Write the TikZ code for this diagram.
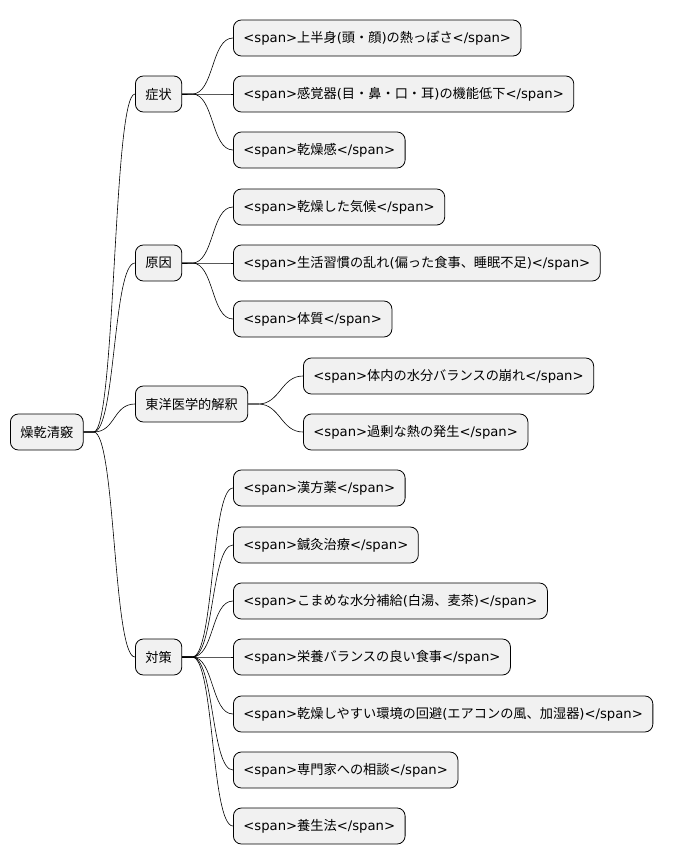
\documentclass[tikz,border=0pt]{standalone}
\usepackage{fontspec}
\setmainfont{Noto Sans CJK JP}
\newfontfamily\lat{DejaVu Sans}
\newcommand{\SO}{{\lat <span>}}
\newcommand{\SC}{{\lat </span>}}
\begin{document}
\begin{tikzpicture}[x=1pt,y=1pt,
  box/.style={draw=black,fill={rgb,255:red,241;green,241;blue,241},rounded corners=8pt,
    minimum height=36pt,inner xsep=10pt,anchor=west,font=\fontsize{13.2pt}{15pt}\selectfont,line width=0.8pt},
  con/.style={draw=black,line width=0.6pt}]
\useasboundingbox (0,0) rectangle (688,-865);
\newcommand{\lk}[2]{\draw[con] (#1.east) -- ([xshift=10pt]#1.east) .. controls ([xshift=32pt]#1.east) and ([xshift=-22pt]#2.west) .. (#2.west);}
\node[box] (r) at (10,-432) {燥乾清竅};
\node[box] (a) at (135,-94) {症状};
\node[box] (b) at (135,-263) {原因};
\node[box] (c) at (135,-404) {東洋医学的解釈};
\node[box] (d) at (135,-657) {対策};
\node[box] (a1) at (233,-38) {\SO 上半身{\lat (}頭・顔{\lat )}の熱っぽさ\SC};
\node[box] (a2) at (233,-94) {\SO 感覚器{\lat (}目・鼻・口・耳{\lat )}の機能低下\SC};
\node[box] (a3) at (233,-150) {\SO 乾燥感\SC};
\node[box] (b1) at (233,-207) {\SO 乾燥した気候\SC};
\node[box] (b2) at (233,-263) {\SO 生活習慣の乱れ{\lat (}偏った食事、睡眠不足{\lat )}\SC};
\node[box] (b3) at (233,-319) {\SO 体質\SC};
\node[box] (c1) at (303,-376) {\SO 体内の水分バランスの崩れ\SC};
\node[box] (c2) at (303,-432) {\SO 過剰な熱の発生\SC};
\node[box] (d1) at (233,-488) {\SO 漢方薬\SC};
\node[box] (d2) at (233,-545) {\SO 鍼灸治療\SC};
\node[box] (d3) at (233,-601) {\SO こまめな水分補給{\lat (}白湯、麦茶{\lat )}\SC};
\node[box] (d4) at (233,-657) {\SO 栄養バランスの良い食事\SC};
\node[box] (d5) at (233,-714) {\SO 乾燥しやすい環境の回避{\lat (}エアコンの風、加湿器{\lat )}\SC};
\node[box] (d6) at (233,-770) {\SO 専門家への相談\SC};
\node[box] (d7) at (233,-826) {\SO 養生法\SC};
\foreach \p in {a,b,c,d} {\lk{r}{\p}}
\foreach \p in {a1,a2,a3} {\lk{a}{\p}}
\foreach \p in {b1,b2,b3} {\lk{b}{\p}}
\foreach \p in {c1,c2} {\lk{c}{\p}}
\foreach \p in {d1,d2,d3,d4,d5,d6,d7} {\lk{d}{\p}}
\end{tikzpicture}
\end{document}
